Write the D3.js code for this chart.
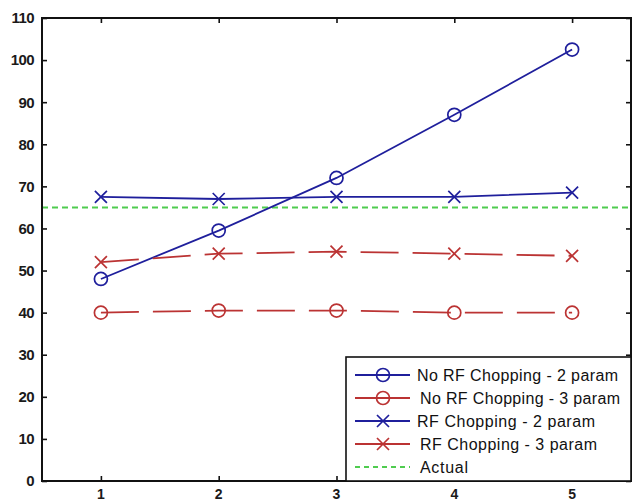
<!DOCTYPE html>
<html>
<head>
<meta charset="utf-8">
<script src="https://cdn.jsdelivr.net/npm/d3@7"></script>
<style>
  body { margin: 0; background: #fff; }
  svg { display: block; }
</style>
</head>
<body>
<script>
const wSvg = 635, hSvg = 501;
const xLeft = 42, xRight = 631, yTop = 18, yBottom = 481;

// data
const xValues = [1, 2, 3, 4, 5];
const noRf2 = [48, 59.5, 72, 87, 102.5];
const noRf3 = [40, 40.5, 40.5, 40, 40];
const rf2 = [67.5, 67, 67.5, 67.5, 68.5];
const rf3 = [52, 54, 54.5, 54, 53.5];
const actual = 65;
const yTicks = [0, 10, 20, 30, 40, 50, 60, 70, 80, 90, 100, 110];
const seriesNames = ["No RF Chopping - 2 param", "No RF Chopping - 3 param",
    "RF Chopping - 2 param", "RF Chopping - 3 param", "Actual"];

const blue = "#1f1f9c", red = "#bb3333", green = "#4fcc4f";

const series = [
    { name: seriesNames[0], values: noRf2, color: blue, marker: "o", dash: null },
    { name: seriesNames[1], values: noRf3, color: red, marker: "o", dash: "38,14" },
    { name: seriesNames[2], values: rf2, color: blue, marker: "x", dash: null },
    { name: seriesNames[3], values: rf3, color: red, marker: "x", dash: "38,14" }
];

const svg = d3.select("body").append("svg")
    .attr("width", wSvg)
    .attr("height", hSvg);

let x = d3.scaleLinear().domain([0.5, 5.5]).range([xLeft, xRight]);
let y = d3.scaleLinear().domain([0, 110]).range([yBottom, yTop]);

// axes with inward ticks
svg.append("g")
    .attr("transform", `translate(${xLeft},0)`)
    .call(d3.axisRight(y).tickValues(yTicks).tickSize(5).tickFormat(""))
    .call(g => g.select(".domain").remove());
svg.append("g")
    .attr("transform", `translate(${xRight},0)`)
    .call(d3.axisLeft(y).tickValues(yTicks).tickSize(5).tickFormat(""))
    .call(g => g.select(".domain").remove());
svg.append("g")
    .attr("transform", `translate(0,${yBottom})`)
    .call(d3.axisTop(x).tickValues(xValues).tickSize(5).tickFormat(""))
    .call(g => g.select(".domain").remove());
svg.append("g")
    .attr("transform", `translate(0,${yTop})`)
    .call(d3.axisBottom(x).tickValues(xValues).tickSize(5).tickFormat(""))
    .call(g => g.select(".domain").remove());
svg.selectAll(".tick line").attr("stroke", "#111").attr("stroke-width", 1.6);

// tick labels
svg.append("g").selectAll("text")
    .data(yTicks)
    .enter()
    .append("text")
    .attr("x", xLeft - 8)
    .attr("y", d => y(d))
    .attr("dy", "0.36em")
    .attr("text-anchor", "end")
    .style("font-family", "Liberation Sans, Arial, sans-serif")
    .style("font-size", "15px")
    .style("font-weight", "bold")
    .style("letter-spacing", "-0.6px")
    .attr("fill", "#1a1a1a")
    .text(d => d);

svg.append("g").selectAll("text")
    .data(xValues)
    .enter()
    .append("text")
    .attr("x", d => x(d))
    .attr("y", 499)
    .attr("text-anchor", "middle")
    .style("font-family", "Liberation Sans, Arial, sans-serif")
    .style("font-size", "14px")
    .style("font-weight", "bold")
    .attr("fill", "#1a1a1a")
    .text(d => d);

// actual reference line
svg.append("line")
    .attr("x1", xLeft).attr("x2", xRight)
    .attr("y1", y(actual)).attr("y2", y(actual))
    .attr("stroke", green)
    .attr("stroke-width", 2)
    .attr("stroke-dasharray", "6,4");

let line = d3.line()
    .x((d, i) => x(xValues[i]))
    .y(d => y(d));

function drawMarker(g, type, cx, cy, color) {
    if (type === "o") {
        g.append("circle")
            .attr("cx", cx).attr("cy", cy).attr("r", 6.5)
            .attr("fill", "none")
            .attr("stroke", color)
            .attr("stroke-width", 1.7);
    } else {
        const s = 6;
        g.append("path")
            .attr("d", `M${cx - s},${cy - s}L${cx + s},${cy + s}M${cx - s},${cy + s}L${cx + s},${cy - s}`)
            .attr("stroke", color)
            .attr("stroke-width", 1.7);
    }
}

for (let s of series) {
    svg.append("path")
        .datum(s.values)
        .attr("d", line)
        .attr("fill", "none")
        .attr("stroke", s.color)
        .attr("stroke-width", 1.8)
        .attr("stroke-dasharray", s.dash);
    let gm = svg.append("g");
    s.values.forEach((v, i) => drawMarker(gm, s.marker, x(xValues[i]), y(v), s.color));
}

// box
svg.append("rect")
    .attr("x", xLeft).attr("y", yTop)
    .attr("width", xRight - xLeft).attr("height", yBottom - yTop)
    .attr("fill", "none")
    .attr("stroke", "#111")
    .attr("stroke-width", 2);

// legend
const lgX = 346, lgY = 357, lgW = xRight - 346, lgH = yBottom - 357;
const legend = svg.append("g");
legend.append("rect")
    .attr("x", lgX).attr("y", lgY)
    .attr("width", lgW).attr("height", lgH)
    .attr("fill", "white")
    .attr("stroke", "#111")
    .attr("stroke-width", 1.6);

const rowY = [375, 398, 421, 444, 467];
const textW = [201, 200, 178, 177, 48];
const legendItems = series.concat([{ name: seriesNames[4], color: green, marker: null, dash: "5,4" }]);
legendItems.forEach((s, i) => {
    legend.append("line")
        .attr("x1", 355).attr("x2", 410)
        .attr("y1", rowY[i]).attr("y2", rowY[i])
        .attr("stroke", s.color)
        .attr("stroke-width", s.marker ? 1.8 : 2)
        .attr("stroke-dasharray", s.marker ? null : s.dash);
    if (s.marker) drawMarker(legend, s.marker, 383, rowY[i], s.color);
    legend.append("text")
        .attr("x", i === 0 || i === 2 ? 417 : 420)
        .attr("y", rowY[i])
        .attr("dy", "0.36em")
        .attr("textLength", textW[i])
        .attr("lengthAdjust", "spacing")
        .style("font-family", "Liberation Sans, Arial, sans-serif")
        .style("font-size", "16px")
        .attr("fill", "#111")
        .text(s.name);
});
</script>
</body>
</html>
